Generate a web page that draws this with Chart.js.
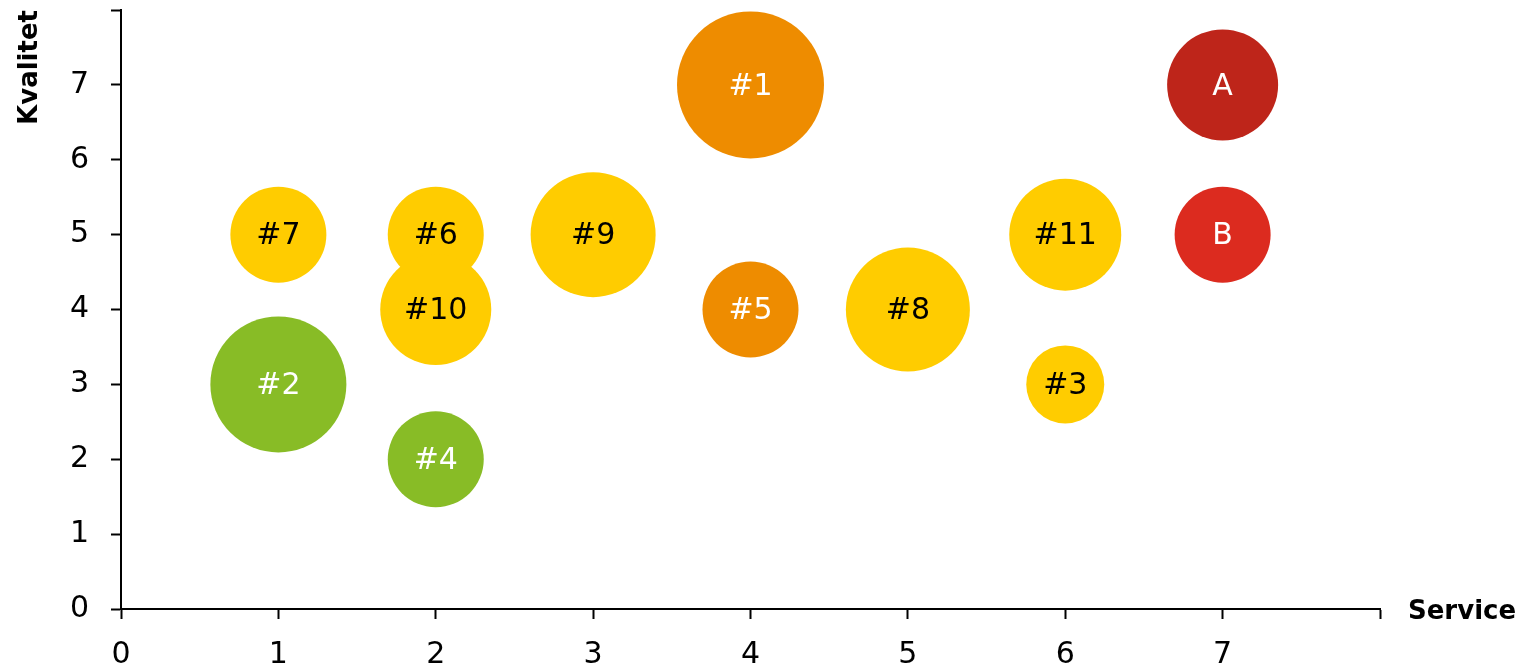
<!DOCTYPE html>
<html>
<head>
<meta charset="utf-8">
<script src="https://cdn.jsdelivr.net/npm/chart.js@4/dist/chart.umd.min.js"></script>
<style>
html,body{margin:0;padding:0;background:#fff;}
#wrap{position:relative;width:1519px;height:667px;}
</style>
</head>
<body>
<div id="wrap"><canvas id="c" width="1519" height="667"></canvas></div>
<script>
const labels = ['#1','#2','#3','#4','#5','#6','#7','#8','#9','#10','#11','A','B'];
const service = [4, 1, 6, 2, 4, 2, 1, 5, 3, 2, 6, 7, 7];
const kvalitet = [7, 3, 3, 2, 4, 5, 5, 4, 5, 4, 5, 7, 5];
const size = [73.5, 68, 39, 48, 48, 48, 48, 62, 62.5, 55.5, 56, 55.5, 48];
const colors = ['#EE8C00','#88BC26','#FFCC00','#88BC26','#EE8C00','#FFCC00','#FFCC00','#FFCC00','#FFCC00','#FFCC00','#FFCC00','#BE251A','#DC2B1F'];
const labelColors = ['#fff','#fff','#000','#fff','#fff','#000','#000','#000','#000','#000','#000','#fff','#fff'];
const xTicks = [0,1,2,3,4,5,6,7];
const yTicks = [0,1,2,3,4,5,6,7];
const xTitle = 'Service';
const yTitle = 'Kvalitet';

const FONT = '"DejaVu Sans", Verdana, sans-serif';

const data = labels.map((l, i) => ({x: service[i], y: kvalitet[i], r: size[i]}));

const labelPlugin = {
  id: 'bubbleLabels',
  afterDatasetsDraw(chart) {
    const ctx = chart.ctx;
    const meta = chart.getDatasetMeta(0);
    ctx.save();
    ctx.font = '30px ' + FONT;
    ctx.textAlign = 'center';
    ctx.textBaseline = 'middle';
    meta.data.forEach((el, i) => {
      ctx.fillStyle = labelColors[i];
      ctx.fillText(labels[i], el.x, el.y + 2);
    });
    ctx.restore();
  },
  afterDraw(chart) {
    const ctx = chart.ctx;
    const a = chart.chartArea;
    ctx.save();
    ctx.fillStyle = '#000';
    ctx.font = 'bold 26px ' + FONT;
    ctx.textAlign = 'left';
    ctx.textBaseline = 'middle';
    ctx.fillText(xTitle, 1408, a.bottom + 3);
    ctx.translate(30, a.top);
    ctx.rotate(-Math.PI / 2);
    ctx.textAlign = 'right';
    ctx.fillText(yTitle, 0, 0);
    ctx.restore();
  }
};

new Chart(document.getElementById('c'), {
  type: 'bubble',
  data: {
    datasets: [{
      data: data,
      backgroundColor: colors,
      hoverBackgroundColor: colors,
      borderWidth: 0,
      hoverBorderWidth: 0,
      clip: false
    }]
  },
  options: {
    responsive: false,
    animation: false,
    events: [],
    layout: {autoPadding: false, padding: {top: 10, right: 139, left: 0, bottom: 0}},
    plugins: {legend: {display: false}, tooltip: {enabled: false}},
    scales: {
      x: {
        type: 'linear', min: 0, max: 8,
        afterBuildTicks(s) { s.ticks = [...xTicks, 8].map(v => ({value: v})); },
        afterFit(s) { s.height = 58; s.paddingLeft = 0; s.paddingRight = 0; },
        grid: {display: true, drawOnChartArea: false, drawTicks: true, tickLength: 10, tickColor: '#000', tickWidth: 2},
        border: {display: true, color: '#000', width: 2},
        ticks: {
          color: '#000', font: {family: FONT, size: 30}, padding: 18,
          maxRotation: 0, autoSkip: false,
          callback: v => xTicks.includes(v) ? String(v) : ''
        }
      },
      y: {
        type: 'linear', min: 0, max: 8,
        afterBuildTicks(s) { s.ticks = [...yTicks, 8].map(v => ({value: v})); },
        afterFit(s) { s.width = 121; s.paddingTop = 0; s.paddingBottom = 0; },
        grid: {display: true, drawOnChartArea: false, drawTicks: true, tickLength: 10, tickColor: '#000', tickWidth: 2},
        border: {display: true, color: '#000', width: 2},
        ticks: {
          color: '#000', font: {family: FONT, size: 30}, padding: 22,
          autoSkip: false,
          callback: v => yTicks.includes(v) ? String(v) : ''
        }
      }
    }
  },
  plugins: [labelPlugin]
});
</script>
</body>
</html>
